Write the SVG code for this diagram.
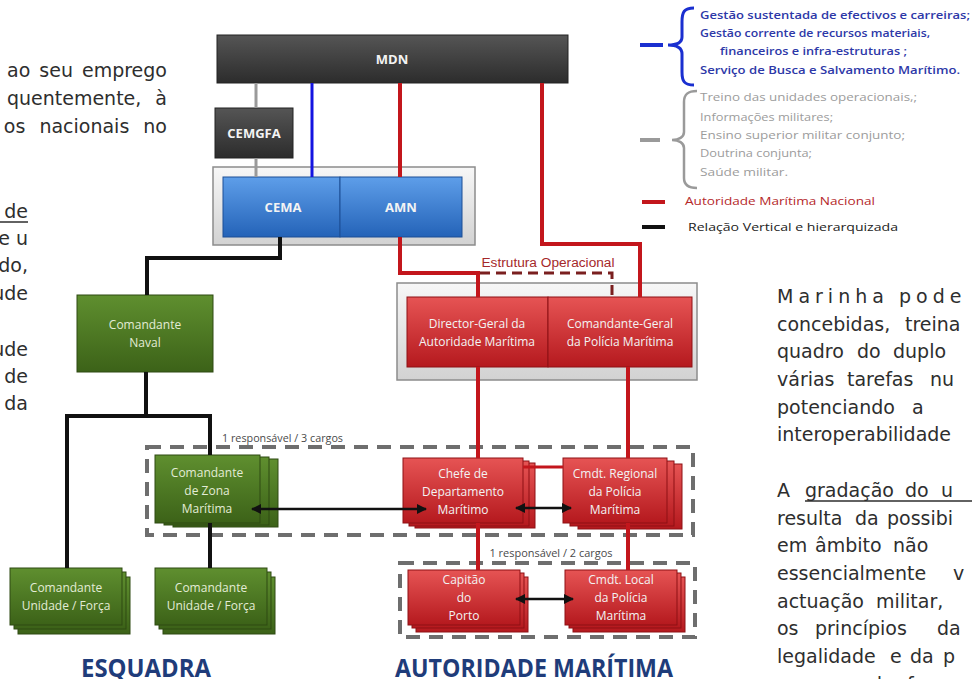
<svg xmlns="http://www.w3.org/2000/svg" width="972" height="679" viewBox="0 0 972 679">
<defs>
<linearGradient id="gD" x1="0" y1="0" x2="0" y2="1"><stop offset="0" stop-color="#555"/><stop offset="1" stop-color="#2c2c2c"/></linearGradient>
<linearGradient id="gB" x1="0" y1="0" x2="0" y2="1"><stop offset="0" stop-color="#5e9ee9"/><stop offset="1" stop-color="#2463b8"/></linearGradient>
<linearGradient id="gR" x1="0" y1="0" x2="0" y2="1"><stop offset="0" stop-color="#e65454"/><stop offset="1" stop-color="#b5191e"/></linearGradient>
<linearGradient id="gG" x1="0" y1="0" x2="0" y2="1"><stop offset="0" stop-color="#5f8f2f"/><stop offset="1" stop-color="#3c6218"/></linearGradient>
<linearGradient id="gF" x1="0" y1="0" x2="0" y2="1"><stop offset="0" stop-color="#f7f7f7"/><stop offset="1" stop-color="#d2d2d2"/></linearGradient>
<marker id="ah" viewBox="0 0 10 10" refX="9" refY="5" markerWidth="4" markerHeight="4" orient="auto-start-reverse"><path d="M0,0 L10,5 L0,10 Z" fill="#111"/></marker>
</defs>
<style>
.bt{font-family:"Open Sans","DejaVu Sans",sans-serif;font-size:12px;fill:#f3f3f3;text-anchor:middle}
.bb{font-weight:700;font-size:13px}
.gt{fill:#e3ecd6}
.para{font-family:"DejaVu Sans",sans-serif;font-size:19px;fill:#2e2e2e}
.lg{font-family:"Open Sans",sans-serif;font-size:11.5px}
.small{font-family:"Open Sans",sans-serif;font-size:10.5px;fill:#4a4a4a}
.title{font-family:"Open Sans",sans-serif;font-weight:700;font-size:25px;fill:#1f3c7a;text-anchor:middle}
.red{stroke:#c3161c;stroke-width:4;fill:none}
.blk{stroke:#111;stroke-width:4;fill:none}
.arr{stroke:#111;stroke-width:2.5;fill:none;marker-start:url(#ah);marker-end:url(#ah)}
.dash{fill:none;stroke:#6e6e6e;stroke-width:4;stroke-dasharray:14 9}
.frame{fill:url(#gF);stroke:#8c8c8c;stroke-width:1.5}
.dk{fill:url(#gD);stroke:#222;stroke-width:1}
.bl{fill:url(#gB);stroke:#1d4f95;stroke-width:1}
.rd{fill:url(#gR);stroke:#8e1014;stroke-width:1}
.gr{fill:url(#gG);stroke:#2e4a12;stroke-width:1}
</style>

<!-- page text left -->
<g id="texto-esquerda" class="para" text-anchor="end">
<text x="167" y="77" word-spacing="3">ao seu emprego</text>
<text x="167" y="105" word-spacing="8">quentemente, à</text>
<text x="167" y="133" word-spacing="8">os nacionais no</text>
<text x="28" y="218">de</text>
<text x="28" y="245">e u</text>
<text x="28" y="272">do,</text>
<text x="28" y="300">ude</text>
<text x="28" y="356">ude</text>
<text x="28" y="383">de</text>
<text x="28" y="410">da</text>
</g>
<line x1="0" y1="222" x2="28" y2="222" stroke="#2e2e2e" stroke-width="1.5"/>

<!-- page text right -->
<g id="texto-direita" class="para">
<text y="303" letter-spacing="5"><tspan x="777">Marinha</tspan><tspan x="899">pode</tspan></text>
<text y="331"><tspan x="777">concebidas,</tspan><tspan x="905">treina</tspan></text>
<text y="358"><tspan x="777">quadro</tspan><tspan x="857">do</tspan><tspan x="893">duplo</tspan></text>
<text y="386"><tspan x="777">várias</tspan><tspan x="847">tarefas</tspan><tspan x="930">nu</tspan></text>
<text y="414"><tspan x="777">potenciando</tspan><tspan x="912">a</tspan></text>
<text y="441"><tspan x="777">interoperabilidade</tspan></text>
<text y="497"><tspan x="777">A</tspan><tspan x="805">gradação</tspan><tspan x="905">do</tspan><tspan x="941">u</tspan></text>
<text y="525"><tspan x="777">resulta</tspan><tspan x="855">da</tspan><tspan x="887">possibi</tspan></text>
<text y="552"><tspan x="777">em</tspan><tspan x="815">âmbito</tspan><tspan x="893">não</tspan></text>
<text y="580"><tspan x="777">essencialmente</tspan><tspan x="953">v</tspan></text>
<text y="608"><tspan x="777">actuação</tspan><tspan x="876">militar,</tspan></text>
<text y="635"><tspan x="777">os</tspan><tspan x="815">princípios</tspan><tspan x="937">da</tspan></text>
<text y="663"><tspan x="777">legalidade</tspan><tspan x="890">e</tspan><tspan x="910">da</tspan><tspan x="943">p</tspan></text>
<text y="691"><tspan x="777">emprego</tspan><tspan x="870">da</tspan><tspan x="907">for</tspan></text>
</g>
<line x1="805" y1="501" x2="972" y2="501" stroke="#2e2e2e" stroke-width="1.5"/>

<!-- legend -->
<g id="legenda">
<rect x="640" y="43" width="23" height="4" fill="#1a2fd0"/>
<path d="M694,8 C684,8 682,12 682,22 V37 C682,43 677,45 668,45 C677,45 682,48 682,54 V72 C682,81 684,85 694,85" fill="none" stroke="#1a2fd0" stroke-width="3"/>
<g class="lg" fill="#2d38a8" font-weight="600">
<text x="700" y="19" textLength="270" lengthAdjust="spacingAndGlyphs">Gestão sustentada de efectivos e carreiras;</text>
<text x="700" y="37" textLength="230" lengthAdjust="spacingAndGlyphs">Gestão corrente de recursos materiais,</text>
<text x="720" y="55" textLength="187" lengthAdjust="spacingAndGlyphs">financeiros e infra-estruturas ;</text>
<text x="700" y="74" textLength="260" lengthAdjust="spacingAndGlyphs">Serviço de Busca e Salvamento Marítimo.</text>
</g>
<rect x="640" y="138" width="20" height="4" fill="#9a9a9a"/>
<path d="M697,91 C688,91 684,94 684,102 V132 C684,137 679,140 672,140 C679,140 684,143 684,148 V178 C684,185 688,188 697,188" fill="none" stroke="#9a9a9a" stroke-width="2.5"/>
<g class="lg" fill="#9c9c9c">
<text x="700" y="101" textLength="217" lengthAdjust="spacingAndGlyphs">Treino das unidades operacionais,;</text>
<text x="700" y="121" textLength="133" lengthAdjust="spacingAndGlyphs">Informações militares;</text>
<text x="700" y="139" textLength="205" lengthAdjust="spacingAndGlyphs">Ensino superior militar conjunto;</text>
<text x="700" y="157" textLength="112" lengthAdjust="spacingAndGlyphs">Doutrina conjunta;</text>
<text x="700" y="176" textLength="88" lengthAdjust="spacingAndGlyphs">Saúde militar.</text>
</g>
<rect x="642" y="200" width="23" height="4" fill="#c3161c"/>
<text class="lg" x="685" y="205" fill="#b5282a" textLength="190" lengthAdjust="spacingAndGlyphs">Autoridade Marítima Nacional</text>
<rect x="642" y="225" width="23" height="4" fill="#111"/>
<text class="lg" x="688" y="231" fill="#222" textLength="210" lengthAdjust="spacingAndGlyphs">Relação Vertical e hierarquizada</text>
</g>

<!-- dashed groupings -->
<g id="agrupamentos">
<rect class="dash" x="147" y="447" width="546" height="88"/>
<rect class="dash" x="400" y="563" width="295" height="74"/>
<text class="small" x="222" y="442" textLength="121" lengthAdjust="spacingAndGlyphs">1 responsável / 3 cargos</text>
<text class="small" x="551" y="557" text-anchor="middle" textLength="123" lengthAdjust="spacingAndGlyphs">1 responsável / 2 cargos</text>
</g>

<!-- nodes -->
<g id="mdn"><rect class="dk" x="217" y="35" width="351" height="48"/><text class="bt bb" x="392" y="64">MDN</text></g>
<g id="cemgfa"><rect class="dk" x="215" y="108" width="78" height="50"/><text class="bt bb" x="254" y="138">CEMGFA</text></g>
<g id="quadro-cema-amn"><rect class="frame" x="213" y="167" width="262" height="78"/></g>
<g id="cema"><rect class="bl" x="223" y="177" width="117" height="60"/><text class="bt bb" x="283" y="212">CEMA</text></g>
<g id="amn"><rect class="bl" x="340" y="177" width="122" height="60"/><text class="bt bb" x="401" y="212">AMN</text></g>
<g id="quadro-direccao"><rect class="frame" x="397" y="283" width="300" height="97"/></g>
<g id="director-geral"><rect class="rd" x="407" y="297" width="141" height="70"/><text class="bt" x="477" y="328">Director-Geral da</text><text class="bt" x="477" y="346">Autoridade Marítima</text></g>
<g id="comandante-geral"><rect class="rd" x="548" y="297" width="144" height="70"/><text class="bt" x="620" y="328">Comandante-Geral</text><text class="bt" x="620" y="346">da Polícia Marítima</text></g>
<g id="comandante-naval"><rect class="gr" x="77" y="295" width="136" height="77"/><text class="bt gt" x="145" y="329">Comandante</text><text class="bt gt" x="145" y="347">Naval</text></g>
<g id="comandante-zona">
<rect class="gr" x="173" y="459" width="105" height="68"/><rect class="gr" x="164" y="457" width="105" height="68"/><rect class="gr" x="155" y="455" width="105" height="68"/>
<text class="bt gt" x="207" y="477">Comandante</text><text class="bt gt" x="207" y="495">de Zona</text><text class="bt gt" x="207" y="513">Marítima</text></g>
<g id="chefe-departamento">
<rect class="rd" x="415" y="463" width="120" height="65"/><rect class="rd" x="409" y="461" width="120" height="65"/><rect class="rd" x="403" y="458" width="120" height="65"/>
<text class="bt" x="463" y="478">Chefe de</text><text class="bt" x="463" y="496">Departamento</text><text class="bt" x="463" y="514">Marítimo</text></g>
<g id="cmdt-regional">
<rect class="rd" x="578" y="464" width="104" height="65"/><rect class="rd" x="570" y="461" width="104" height="65"/><rect class="rd" x="563" y="458" width="104" height="65"/>
<text class="bt" x="615" y="478">Cmdt. Regional</text><text class="bt" x="615" y="496">da Polícia</text><text class="bt" x="615" y="514">Marítima</text></g>
<g id="capitao-porto">
<rect class="rd" x="416" y="577" width="112" height="55"/><rect class="rd" x="412" y="573" width="112" height="55"/><rect class="rd" x="408" y="570" width="112" height="55"/>
<text class="bt" x="464" y="584">Capitão</text><text class="bt" x="464" y="602">do</text><text class="bt" x="464" y="620">Porto</text></g>
<g id="cmdt-local">
<rect class="rd" x="573" y="577" width="112" height="55"/><rect class="rd" x="569" y="573" width="112" height="55"/><rect class="rd" x="565" y="570" width="112" height="55"/>
<text class="bt" x="621" y="584">Cmdt. Local</text><text class="bt" x="621" y="602">da Polícia</text><text class="bt" x="621" y="620">Marítima</text></g>
<g id="unidade-1">
<rect class="gr" x="18" y="577" width="112" height="57"/><rect class="gr" x="14" y="572" width="112" height="57"/><rect class="gr" x="10" y="568" width="112" height="57"/>
<text class="bt gt" x="66" y="592">Comandante</text><text class="bt gt" x="66" y="610">Unidade / Força</text></g>
<g id="unidade-2">
<rect class="gr" x="163" y="577" width="112" height="57"/><rect class="gr" x="159" y="572" width="112" height="57"/><rect class="gr" x="155" y="568" width="112" height="57"/>
<text class="bt gt" x="211" y="592">Comandante</text><text class="bt gt" x="211" y="610">Unidade / Força</text></g>

<!-- connectors -->
<g id="conectores">
<path d="M256,83 V108 M256,158 V177" stroke="#9a9a9a" stroke-width="3" fill="none"/>
<path d="M312,83 V177" stroke="#1414e0" stroke-width="3" fill="none"/>
<path class="red" d="M400,83 V177"/>
<path class="red" d="M400,237 V273 H478 V297"/>
<path class="red" d="M542,83 V244 H640 V297"/>
<path class="red" d="M478,367 V458 M628,367 V458 M478,523 V570 M628,523 V570"/>
<path d="M523,467 H563" stroke="#c3161c" stroke-width="3" fill="none"/>
<path d="M480,273 H612 V297" fill="none" stroke="#7a1f1f" stroke-width="3" stroke-dasharray="10 6"/>
<text x="548" y="267" text-anchor="middle" font-family="Liberation Sans, sans-serif" font-size="12.5" fill="#a5282a" textLength="133" lengthAdjust="spacingAndGlyphs">Estrutura Operacional</text>
<path class="blk" d="M280,237 V258 H147 V295"/>
<path class="blk" d="M146,372 V416 M65,416 H212 M67,416 V568 M210,416 V455 M210,523 V568"/>
<path class="arr" d="M252,509 H426"/>
<path class="arr" d="M516,508 H571"/>
<path class="arr" d="M516,599 H573"/>
</g>

<text class="title" x="146" y="677" textLength="130" lengthAdjust="spacingAndGlyphs">ESQUADRA</text>
<text class="title" x="534" y="677" textLength="278" lengthAdjust="spacingAndGlyphs">AUTORIDADE MARÍTIMA</text>
</svg>
